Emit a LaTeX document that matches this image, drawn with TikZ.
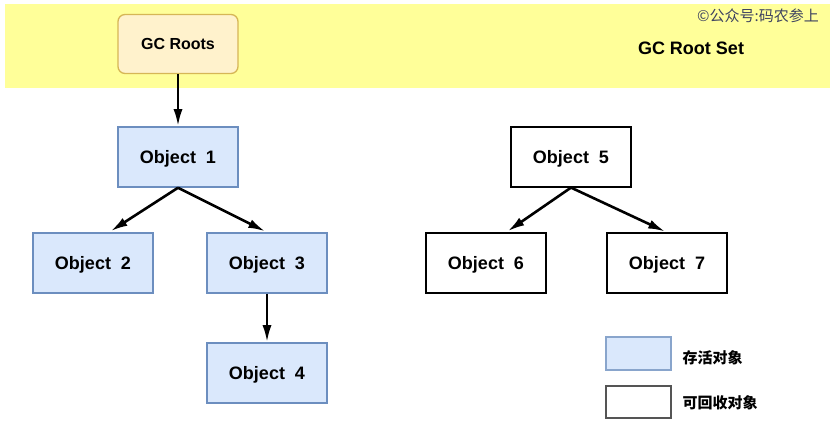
\documentclass[tikz,border=0pt]{standalone}
\usepackage{fontspec}
\setmainfont{Liberation Sans}
\newfontfamily\cjk{Noto Sans CJK SC}
\usetikzlibrary{arrows.meta}
\definecolor{rootband}{HTML}{FFFF99}
\definecolor{rootfill}{HTML}{FFF2CC}
\definecolor{rootdraw}{HTML}{D6B656}
\definecolor{livefill}{HTML}{DAE8FC}
\definecolor{livedraw}{HTML}{6C8EBF}
\definecolor{markgray}{HTML}{3D4260}
\definecolor{keygray}{HTML}{555555}

\begin{document}
\begin{tikzpicture}[x=1pt, y=-1pt,
  obj/.style={rectangle, minimum width=120pt, minimum height=60pt, inner sep=0pt, text depth=0pt, font=\fontsize{18}{20}\selectfont\bfseries},
  live/.style={obj, draw=livedraw, fill=livefill, line width=1.5pt},
  dead/.style={obj, draw=black, fill=white, line width=1.2pt},
  ref/.style={-{Latex[length=17pt,width=9pt]}, line width=2.6pt},
  keytext/.style={anchor=west, font=\cjk\bfseries\fontsize{15}{17}\selectfont}
]
\useasboundingbox (0,0) rectangle (830,435);
\fill[white] (0,0) rectangle (830,435);

% GC root set band
\fill[rootband] (5,4) rectangle (830,88);
\node[rectangle, rounded corners=7pt, minimum width=120pt, minimum height=59pt, draw=rootdraw, fill=rootfill, line width=1.3pt, text depth=0pt, font=\fontsize{16}{18}\selectfont\bfseries] (roots) at (178,44) {GC Roots};
\node[font=\fontsize{18}{20}\selectfont\bfseries] (rootset) at (691,48) {GC Root Set};
\node[anchor=east, text=markgray, font=\cjk\fontsize{15}{17}\selectfont, inner sep=0pt] (mark) at (819,16) {©公众号:码农参上};

% reachable objects
\node[live] (o1) at (178,157) {Object~~1};
\node[live] (o2) at (93,263) {Object~~2};
\node[live] (o3) at (267,263) {Object~~3};
\node[live] (o4) at (267,373) {Object~~4};
\draw[ref] (roots) -- (o1);
\draw[ref, shorten >=2pt] (o1.south) -- ([xshift=16pt]o2.north);
\draw[ref, shorten >=2pt] (o1.south) -- (o3.north);
\draw[ref] (o3) -- (o4);

% unreachable objects
\node[dead] (o5) at (571,157) {Object~~5};
\node[dead] (o6) at (486,263) {Object~~6};
\node[dead] (o7) at (667,263) {Object~~7};
\draw[ref, shorten >=2pt] (o5.south) -- ([xshift=20pt]o6.north);
\draw[ref, shorten >=2pt] (o5.south) -- (o7.north);

% legend
\node[rectangle, minimum width=65pt, minimum height=33pt, draw=livedraw!80, fill=livefill, line width=1.5pt] (keylive) at (638.5,353.5) {};
\node[keytext] (keylivetxt) at (679,358) {存活对象};
\node[rectangle, minimum width=65pt, minimum height=32pt, draw=keygray, fill=white, line width=1.8pt] (keydead) at (638.5,402) {};
\node[keytext] (keydeadtxt) at (679,402.5) {可回收对象};
\end{tikzpicture}
\end{document}
